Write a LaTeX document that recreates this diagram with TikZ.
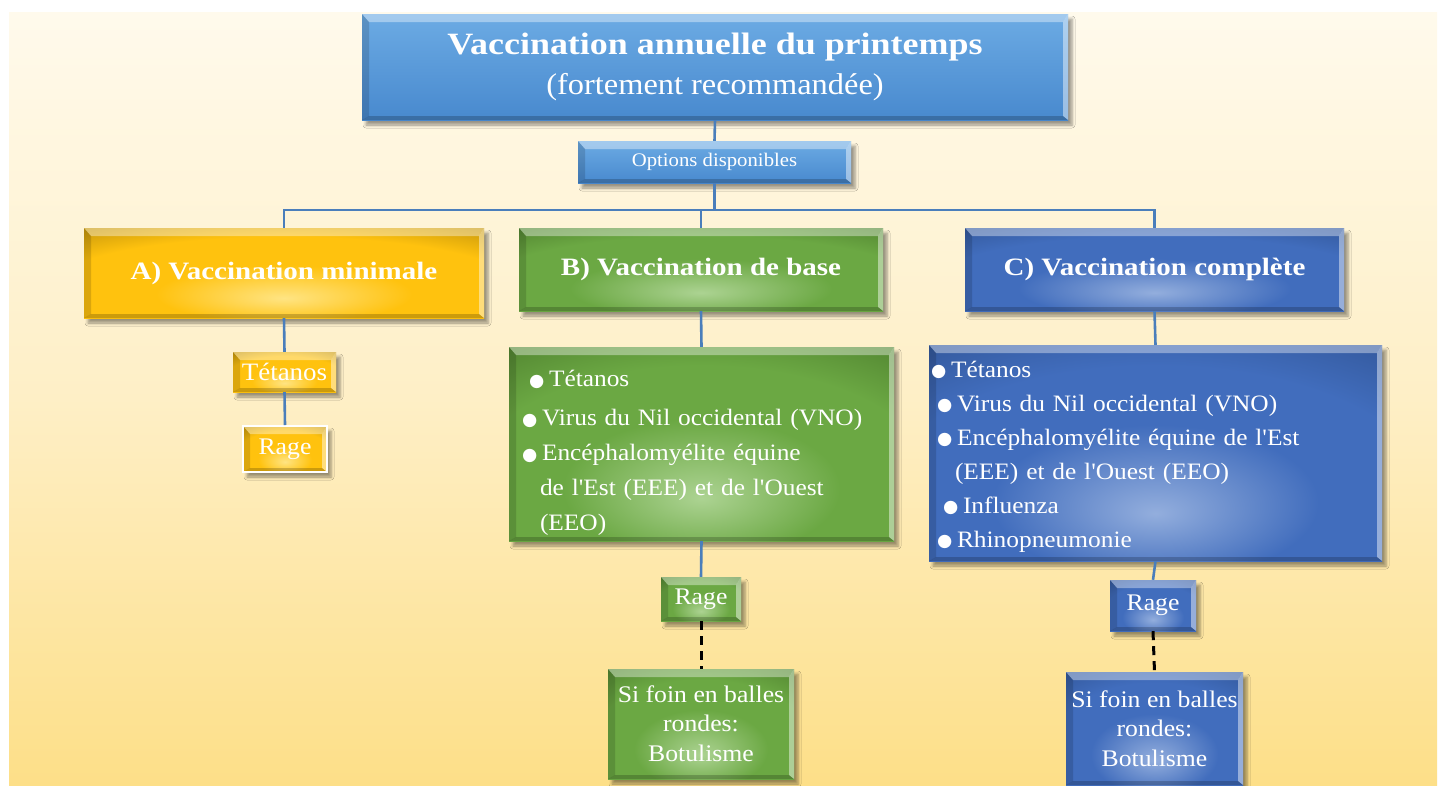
\documentclass[tikz,border=0pt]{standalone}
\usepackage{fontspec}
\setmainfont{Liberation Serif}[FakeStretch=1.08]
\newfontfamily\widefont{Liberation Serif}[FakeStretch=1.16]
\newfontfamily\plainf{Liberation Serif}[FakeStretch=1.08]
\newfontfamily\symf{DejaVu Sans}
\usetikzlibrary{shadows.blur,calc}

\definecolor{bgtop}{HTML}{FFFAEC}
\definecolor{bgmid}{HTML}{FEEFC6}
\definecolor{bgbot}{HTML}{FDDF88}
\definecolor{line}{HTML}{4A7EBB}
\definecolor{ttop}{HTML}{6CABE4}
\definecolor{tbot}{HTML}{4889CE}
\definecolor{goldin}{HTML}{FFE483}
\definecolor{goldmid}{HTML}{FFC20E}
\definecolor{goldout}{HTML}{A07A0A}
\definecolor{grin}{HTML}{ACD392}
\definecolor{grmid}{HTML}{6BA843}
\definecolor{grout}{HTML}{437026}
\definecolor{blin}{HTML}{93AEDD}
\definecolor{blmid}{HTML}{416DBD}
\definecolor{blout}{HTML}{2B4C88}

\pgfdeclareradialshading{goldglow}{\pgfpoint{0bp}{-14bp}}{color(0bp)=(goldin); color(16bp)=(goldmid); color(30bp)=(goldmid); color(50bp)=(goldout); color(100bp)=(goldout)}
\pgfdeclareradialshading{greenglow}{\pgfpoint{0bp}{-14bp}}{color(0bp)=(grin); color(18bp)=(grmid); color(30bp)=(grmid); color(50bp)=(grout); color(100bp)=(grout)}
\pgfdeclareradialshading{blueglow}{\pgfpoint{0bp}{-14bp}}{color(0bp)=(blin); color(18bp)=(blmid); color(30bp)=(blmid); color(50bp)=(blout); color(100bp)=(blout)}

% bullet in a box of given width
\newcommand{\bul}[1][20pt]{\makebox[#1][l]{\raisebox{0.5pt}{\symf\fontsize{17.5}{17.5}\selectfont ●}}}
\newcommand{\apos}{{\plainf'}}

\tikzset{
  bevel/.style={path picture={
    \path (path picture bounding box.north west) coordinate (pnw)
          (path picture bounding box.south east) coordinate (pse)
          (pnw -| pse) coordinate (pne)
          (pnw |- pse) coordinate (psw);
    \fill[white,opacity=.38] (pnw) -- (pne) -- ([xshift=-5pt,yshift=-8pt]pne) -- ([xshift=7pt,yshift=-8pt]pnw) -- cycle;
    \fill[black,opacity=.14] (pnw) -- ([xshift=7pt,yshift=-8pt]pnw) -- ([xshift=7pt,yshift=4pt]psw) -- (psw) -- cycle;
    \fill[white,opacity=.45] (pne) -- (pse) -- ([xshift=-5pt,yshift=4pt]pse) -- ([xshift=-5pt,yshift=-8pt]pne) -- cycle;
    \fill[black,opacity=.2] (psw) -- (pse) -- ([xshift=-5pt,yshift=4pt]pse) -- ([xshift=7pt,yshift=4pt]psw) -- cycle;
  }},
  box/.style={rectangle, inner sep=0pt, text=white, align=center, bevel,
    blur shadow={shadow xshift=4pt, shadow yshift=-5pt, shadow blur radius=3pt, shadow opacity=40}},
  titlebox/.style={box, top color=ttop, bottom color=tbot},
  goldbox/.style={box, shading=goldglow},
  greenbox/.style={box, shading=greenglow},
  bluebox/.style={box, shading=blueglow},
  conn/.style={draw=line, line width=2.6pt},
  dashconn/.style={draw=black, line width=3pt, dash pattern=on 9pt off 6pt},
  hdr/.style={font=\widefont\bfseries\fontsize{25}{30}\selectfont},
  body/.style={font=\fontsize{23.8}{29}\selectfont},
}

\begin{document}
\begin{tikzpicture}[x=1pt,y=-1pt]
\useasboundingbox (0,0) rectangle (1445,785);
\fill[white] (0,0) rectangle (1445,785);
\shade[top color=bgtop, bottom color=bgbot, middle color=bgmid] (9,12) rectangle (1437,785);

% title and options
\node[titlebox, minimum width=706pt, minimum height=106pt, font=\fontsize{30}{40}\selectfont] (title) at (715,67)
  {{\widefont\bfseries\fontsize{31}{40}\selectfont Vaccination annuelle du printemps}\\
   (fortement recommandée)};
\node[titlebox, minimum width=273pt, minimum height=42pt, font=\fontsize{19.2}{20}\selectfont] (opt) at (714.5,162) {Options disponibles};

% level 1
\node[goldbox, minimum width=400pt, minimum height=90pt, hdr] (A) at (284,273) {A) Vaccination minimale};
\node[greenbox, minimum width=364pt, minimum height=83pt, hdr] (B) at (701,269.5) {B) Vaccination de base};
\node[bluebox, minimum width=379pt, minimum height=83pt, hdr] (C) at (1154.5,269.5) {C) Vaccination complète};

% A branch
\node[goldbox, minimum width=103pt, minimum height=40pt, font=\fontsize{25}{29}\selectfont] (Atet) at (284.5,372) {Tétanos};
\node[goldbox, draw=white, line width=2pt, minimum width=84pt, minimum height=46pt, body] (Arage) at (285,449) {Rage};

% B branch
\node[greenbox, minimum width=385pt, minimum height=194pt, text width=359pt, inner xsep=13pt, align=left,
      font=\fontsize{23.5}{35}\selectfont] (Blist) at (701.5,444)
  {\rule{0pt}{34pt}\hspace*{7pt}\bul Tétanos\\[4pt]
   \bul Virus du Nil occidental (VNO)\\
   \bul Encéphalomyélite équine\\
   \hspace*{18pt}de l\apos Est (EEE) et de l\apos Ouest\\
   \hspace*{18pt}(EEO)};
\node[greenbox, minimum width=80pt, minimum height=44pt, body] (Brage) at (701,599) {Rage};
\node[greenbox, minimum width=186pt, minimum height=110pt, body] (Bfoin) at (701,724)
  {Si foin en balles\\rondes:\\[1pt]Botulisme};

% C branch
\node[bluebox, minimum width=453pt, minimum height=216pt, text width=449pt, inner xsep=2pt, align=left,
      font=\fontsize{23.5}{34}\selectfont] (Clist) at (1155.5,453)
  {\rule{0pt}{23pt}\bul Tétanos\\
   \hspace*{6pt}\bul Virus du Nil occidental (VNO)\\
   \hspace*{6pt}\bul Encéphalomyélite équine de l\apos Est\\
   \hspace*{24pt}(EEE) et de l\apos Ouest (EEO)\\
   \hspace*{12pt}\bul Influenza\\
   \hspace*{6pt}\bul Rhinopneumonie};
\node[bluebox, minimum width=86pt, minimum height=51pt, body] (Crage) at (1153,605.5) {Rage};
\node[bluebox, minimum width=177pt, minimum height=113pt, body] (Cfoin) at (1154.5,728.5)
  {Si foin en balles\\rondes:\\[1pt]Botulisme};

% connectors
\coordinate (bus) at (714.5,210);
\draw[conn] (title.south) -- (opt.north);
\draw[conn] (opt.south) -- (bus) -| (A.north);
\draw[conn] (bus) -| (B.north);
\draw[conn] (bus) -| (C.north);
\draw[conn] (A.south) -- (Atet.north);
\draw[conn] (Atet.south) -- (Arage.north);
\draw[conn] (B.south) -- (Blist.north);
\draw[conn] (Blist.south) -- (Brage.north);
\draw[dashconn] (Brage.south) -- (Bfoin.north);
\draw[conn] (C.south) -- (Clist.north);
\draw[conn] (Clist.south) -- (Crage.north);
\draw[dashconn] (Crage.south) -- (Cfoin.north);
\end{tikzpicture}
\end{document}
